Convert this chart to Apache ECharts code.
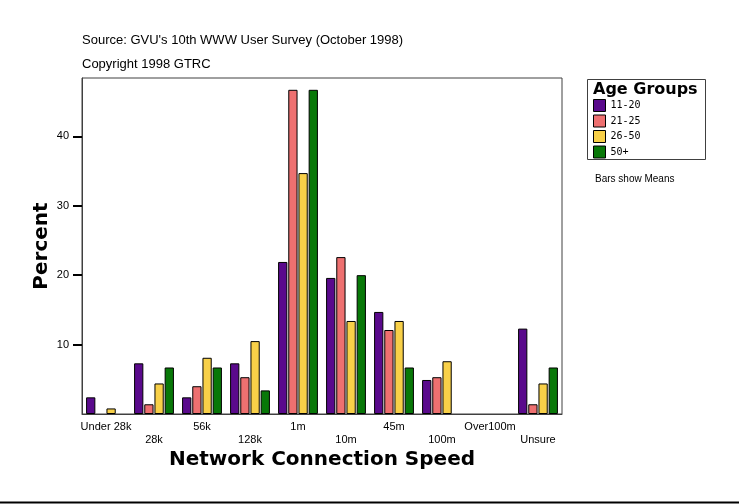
<!DOCTYPE html>
<html><head><meta charset="utf-8">
<script src="https://cdn.jsdelivr.net/npm/echarts@6/dist/echarts.min.js"></script>
<style>html,body{margin:0;padding:0;background:#fff}#c{width:739px;height:504px}</style>
</head><body><div id="c"></div>
<script>
var categories = ['Under 28k','28k','56k','128k','1m','10m','45m','100m','Over100m','Unsure'];
var ageGroups = ['11-20','21-25','26-50','50+'];
var age11_20 = [2.4, 7.3, 2.4, 7.3, 21.9, 19.6, 14.7, 4.9, 0, 12.3];
var age21_25 = [0, 1.4, 4.0, 5.3, 46.7, 22.6, 12.1, 5.3, 0, 1.4];
var age26_50 = [0.8, 4.4, 8.1, 10.5, 34.7, 13.4, 13.4, 7.6, 0, 4.4];
var age50plus = [0, 6.7, 6.7, 3.4, 46.7, 20.0, 6.7, 0, 0, 6.7];
var yTicks = [10, 20, 30, 40];
var colors = ['#5A0A8C', '#EE7070', '#F8D048', '#087808'];

var chart = echarts.init(document.getElementById('c'), null, {renderer: 'canvas'});
var seriesData = [age11_20, age21_25, age26_50, age50plus];
var series = seriesData.map(function (d, i) {
  return {
    name: ageGroups[i], type: 'bar',
    data: d.map(function (v) { return v === 0 ? null : v; }),
    barGap: '10%', barCategoryGap: '17%',
    itemStyle: {color: colors[i], borderColor: '#000', borderWidth: 1},
    animation: false
  };
});
var txtFont = '"Liberation Sans", Arial, sans-serif';
chart.setOption({
  animation: false,
  backgroundColor: '#fff',
  grid: {left: 82, top: 78, width: 480, height: 336, show: true, borderColor: '#404040', borderWidth: 1, backgroundColor: 'transparent'},
  xAxis: {
    type: 'category', data: categories,
    name: 'Network Connection Speed', nameLocation: 'middle', nameGap: 36, nameMoveOverlap: false,
    nameTextStyle: {fontFamily: '"DejaVu Sans", sans-serif', fontWeight: 900, fontSize: 20, color: '#000'},
    axisLine: {lineStyle: {color: '#404040', width: 1}},
    axisTick: {alignWithLabel: true, length: 5, lineStyle: {color: '#000', width: 2}},
    axisLabel: {
      interval: 0, margin: 6, fontFamily: txtFont, fontSize: 11, color: '#000', lineHeight: 13,
      formatter: function (v, i) { return i % 2 ? '\n' + v : v; }
    }
  },
  yAxis: {
    type: 'value', min: 0, max: 48.4, interval: 10,
    name: 'Percent', nameLocation: 'middle', nameGap: 30, nameRotate: 90, nameMoveOverlap: false,
    nameTextStyle: {fontFamily: '"DejaVu Sans", sans-serif', fontWeight: 900, fontSize: 20, color: '#000'},
    splitLine: {show: false},
    axisLine: {show: true, lineStyle: {color: '#404040', width: 1}},
    axisTick: {show: true, length: 9, customValues: yTicks, lineStyle: {color: '#000', width: 2}},
    axisLabel: {margin: 13, customValues: yTicks, fontFamily: txtFont, fontSize: 11, color: '#000'}
  },
  legend: {
    orient: 'vertical', left: 593, top: 99, itemWidth: 12, itemHeight: 12, itemGap: 2.5, padding: 0,
    icon: 'rect',
    data: ageGroups,
    itemStyle: {borderColor: '#000', borderWidth: 1},
    textStyle: {fontFamily: '"DejaVu Sans Mono", monospace', fontSize: 10, lineHeight: 12, color: '#000'}
  },
  graphic: [
    {type: 'text', left: 82, top: 34, style: {text: "Source: GVU's 10th WWW User Survey (October 1998)", font: '13px ' + txtFont, fill: '#000'}},
    {type: 'text', left: 82, top: 58, style: {text: 'Copyright 1998 GTRC', font: '13px ' + txtFont, fill: '#000'}},
    {type: 'rect', shape: {x: 587.5, y: 79.5, width: 118, height: 80}, style: {fill: 'none', stroke: '#404040', lineWidth: 1}},
    {type: 'text', left: 593, top: 82, style: {text: 'Age Groups', font: '900 16px "DejaVu Sans", sans-serif', fill: '#000'}},
    {type: 'text', left: 595, top: 174, style: {text: 'Bars show Means', font: '10px ' + txtFont, fill: '#000'}},
    {type: 'line', shape: {x1: 0, y1: 502.5, x2: 739, y2: 502.5}, style: {stroke: '#000', lineWidth: 2}}
  ],
  series: series
});
</script></body></html>
